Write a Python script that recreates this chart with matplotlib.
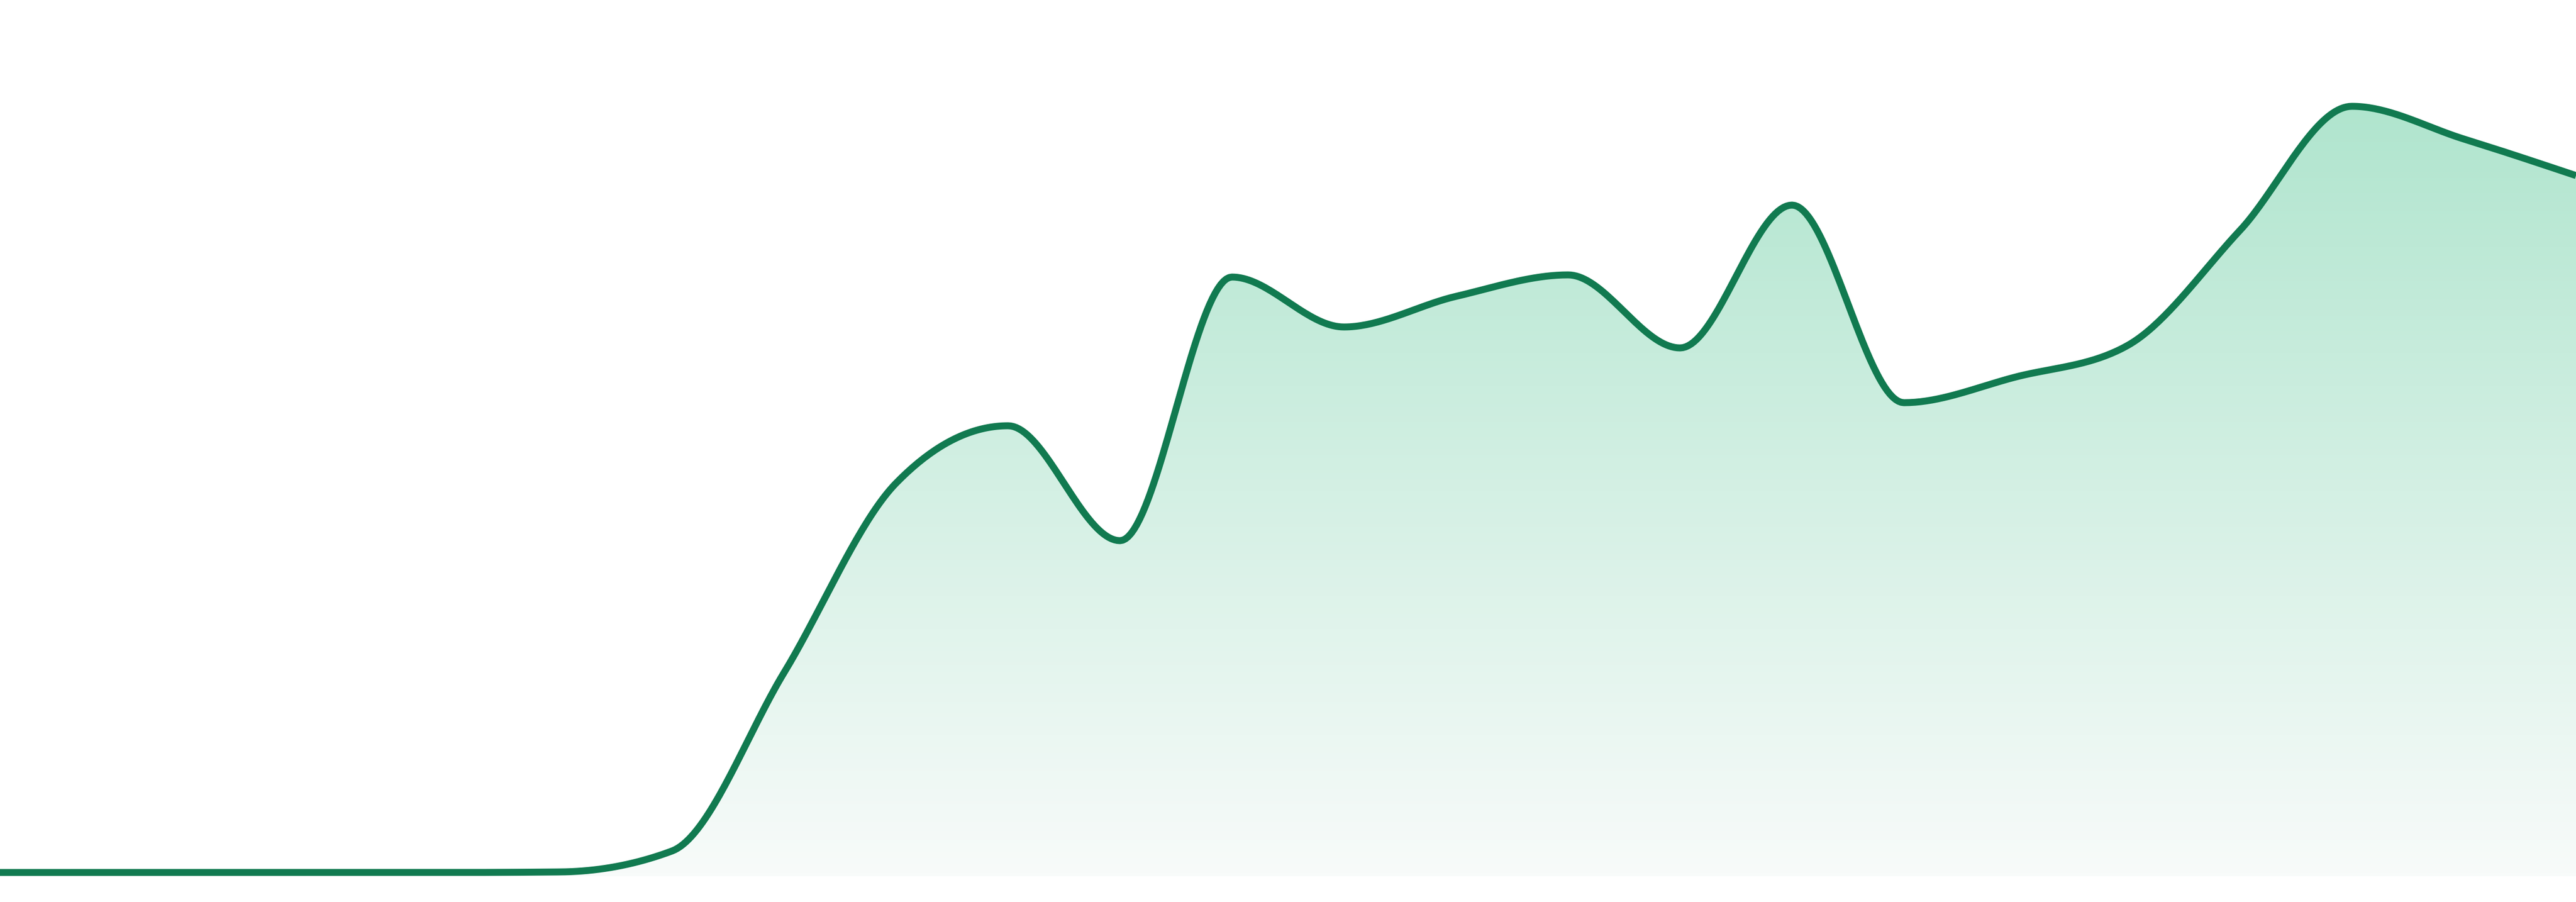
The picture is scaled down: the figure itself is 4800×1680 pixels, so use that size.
import matplotlib
matplotlib.use("Agg")
import matplotlib.pyplot as plt
import numpy as np
from matplotlib.colors import LinearSegmentedColormap

# sparkline data, one value per step
steps = list(range(24))
values = [0.7, 0.7, 0.7, 0.7, 0.7, 0.8, 4.7, 37.9, 73.2, 83.9, 62.5, 111.6,
          102.3, 108.0, 112.0, 98.4, 125.0, 88.2, 93.0, 98.9, 120.3, 143.4,
          137.3, 130.5]

line_color = '#117a50'
fill_top = '#b0e5ce'
fill_bottom = '#f8fbfa'


def monotone_x(x, y, n=40):
    # monotone cubic (same as d3.curveMonotoneX)
    x = np.asarray(x, float)
    y = np.asarray(y, float)
    h = np.diff(x)
    s = np.diff(y) / h
    t = np.zeros_like(y)
    for i in range(1, len(y) - 1):
        s0, s1 = s[i - 1], s[i]
        p = (s0 * h[i] + s1 * h[i - 1]) / (h[i - 1] + h[i])
        t[i] = (np.sign(s0) + np.sign(s1)) * min(abs(s0), abs(s1), 0.5 * abs(p))
    t[0] = (3 * s[0] - t[1]) / 2
    t[-1] = (3 * s[-1] - t[-2]) / 2
    xs, ys = [], []
    for i in range(len(x) - 1):
        u = np.linspace(0, 1, n, endpoint=False)
        h00 = 2 * u**3 - 3 * u**2 + 1
        h10 = u**3 - 2 * u**2 + u
        h01 = -2 * u**3 + 3 * u**2
        h11 = u**3 - u**2
        xs.append(x[i] + u * h[i])
        ys.append(h00 * y[i] + h10 * h[i] * t[i] + h01 * y[i + 1] + h11 * h[i] * t[i + 1])
    xs.append([x[-1]])
    ys.append([y[-1]])
    return np.concatenate(xs), np.concatenate(ys)


xs, ys = monotone_x(steps, values)

fig = plt.figure(figsize=(16, 5.6), dpi=300)
ax = fig.add_axes([0, 48 / 1680, 1, 1632 / 1680])
ax.set_xlim(steps[0], steps[-1])
ax.set_ylim(0, 163.2)
ax.axis('off')

# gradient fill under the curve
poly = ax.fill_between(xs, ys, 0, color='none', lw=0)
cmap = LinearSegmentedColormap.from_list('g', [fill_bottom, fill_top])
grad = np.linspace(0, 1, 256).reshape(-1, 1)
img = ax.imshow(grad, cmap=cmap, aspect='auto', origin='lower',
                extent=(steps[0], steps[-1], 0, max(values)), zorder=1)
img.set_clip_path(poly.get_paths()[0], transform=ax.transData)

ax.plot(xs, ys, color=line_color, lw=3.1, solid_capstyle='butt', zorder=3)

fig.savefig('out.png', dpi=300)
